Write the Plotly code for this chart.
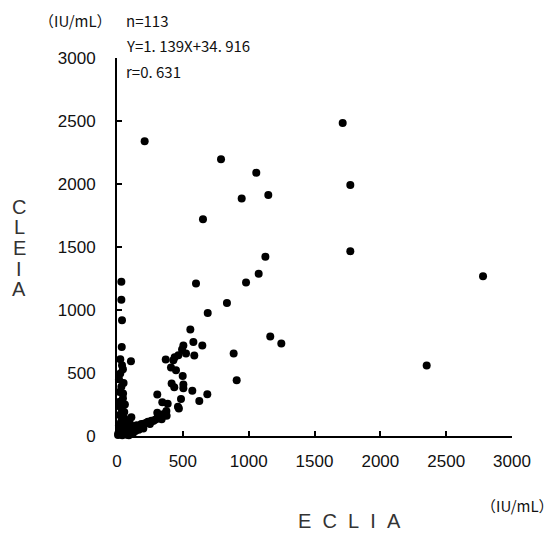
import plotly.graph_objects as go

# ECLIA (x) vs CLEIA (y), IU/mL
eclia = [210, 790, 1058, 1149, 947, 653, 1714, 1772, 1772, 2780,
         600, 1127, 1076, 980, 835, 1164, 1248, 2352, 689, 557,
         580, 504, 648, 524, 587, 886, 909, 499, 504, 504,
         572, 686, 625, 486, 470, 494, 466, 428, 370, 410,
         448, 415, 435, 306, 344, 385, 306, 377, 339, 106,
         33, 33, 38, 36, 38, 25, 33, 46, 20, 38,
         20, 38, 109, 96, 33, 20, 134, 185, 235, 286,
         463, 375, 311, 261, 210, 160, 84, 46, 8, 438,
         15, 45, 60, 25, 55, 70, 120, 150, 100, 190,
         250, 60, 30, 15, 40, 75, 120, 20, 50, 55,
         80, 165, 225, 275, 300, 330, 45, 25, 10, 90,
         140, 200, 355]
cleia = [2340, 2197, 2089, 1913, 1884, 1720, 2485, 1992, 1467, 1267,
         1211, 1422, 1288, 1219, 1055, 789, 734, 560, 976, 845,
         747, 718, 718, 654, 639, 654, 443, 477, 409, 378,
         359, 332, 277, 293, 219, 686, 641, 602, 607, 544,
         522, 417, 386, 330, 267, 256, 184, 161, 132, 594,
         1225, 1082, 918, 707, 562, 496, 390, 338, 272, 206,
         166, 127, 148, 105, 61, 34, 79, 95, 113, 127,
         232, 198, 153, 121, 100, 74, 34, 21, 8, 625,
         450, 300, 250, 230, 190, 95, 55, 85, 25, 75,
         95, 60, 110, 85, 5, 10, 20, 350, 420, 140,
         55, 50, 105, 120, 135, 160, 530, 610, 20, 5,
         40, 60, 175]

tick_vals = [0, 500, 1000, 1500, 2000, 2500, 3000]
tick_text = ["0", "500", "1000", "1500", "2000", "2500", "3000"]

stats_lines = ["n=113", "Y=1. 139X+34. 916", "r=0. 631"]
unit = "（IU/mL）"
x_title = "ECLIA"
y_title = "CLEIA"

tick_font = dict(family="Liberation Sans, Arial, sans-serif", size=17, color="#111")
jp_font = dict(family="Noto Sans CJK JP, sans-serif", size=15, color="#111")
title_font = dict(family="Liberation Sans, Arial, sans-serif", size=20, color="#333")

fig = go.Figure()
fig.add_trace(go.Scatter(
    x=eclia, y=cleia, mode="markers",
    marker=dict(color="black", size=8, line=dict(width=0)),
    cliponaxis=False, showlegend=False,
))

axis_common = dict(
    showgrid=False, zeroline=False, showline=True, linecolor="black", linewidth=2,
    ticks="inside", ticklen=5, tickwidth=2, tickcolor="black",
    tickvals=tick_vals, ticktext=tick_text, tickfont=tick_font,
    range=[0, 3000], fixedrange=True,
)
fig.update_xaxes(**axis_common, ticklabelstandoff=9)
fig.update_yaxes(**axis_common, ticklabelstandoff=16)

OFF = 8  # browser body margin
annotations = []
# stats text block (reference pixel coords)
for i, line in enumerate(stats_lines):
    annotations.append(dict(
        x=124, y=20 + 25.5 * i, text=line,
        showarrow=False, xanchor="left", yanchor="middle", font=jp_font,
    ))
annotations.append(dict(x=75, y=20, text=unit, showarrow=False,
                        xanchor="center", yanchor="middle", font=jp_font))
annotations.append(dict(x=517, y=505, text=unit, showarrow=False,
                        xanchor="center", yanchor="middle", font=jp_font))
annotations.append(dict(x=349, y=521, text="\u00a0\u00a0".join(list(x_title)),
                        showarrow=False, xanchor="center", yanchor="middle",
                        font=title_font))
for i, ch in enumerate(y_title):
    annotations.append(dict(x=19, y=207 + 20.5 * i, text=ch, showarrow=False,
                            xanchor="center", yanchor="middle", font=title_font))

W, H = 558 - OFF, 533 - OFF
L, R, T, B = 117 - OFF, 46, 58 - OFF, 97
pw, ph = W - L - R, H - T - B
for a in annotations:
    a["x"] = (a["x"] - OFF - L) / pw
    a["y"] = 1 - (a["y"] - OFF - T) / ph
    a["xref"] = "paper"
    a["yref"] = "paper"

fig.update_layout(
    width=W, height=H,
    margin=dict(l=L, r=R, t=T, b=B),
    paper_bgcolor="white", plot_bgcolor="white",
    annotations=annotations,
)

fig.write_html("out.html")
